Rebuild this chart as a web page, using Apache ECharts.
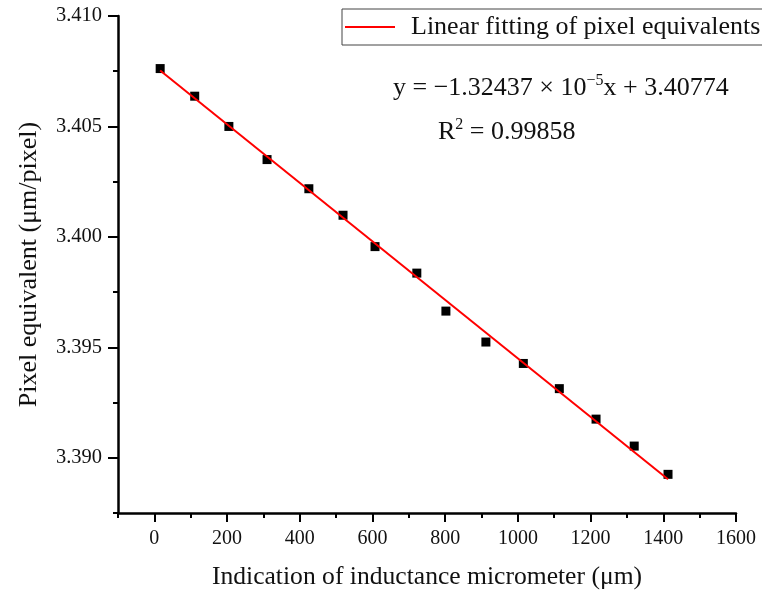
<!DOCTYPE html>
<html>
<head>
<meta charset="utf-8">
<script src="https://cdn.jsdelivr.net/npm/echarts@6/dist/echarts.min.js"></script>
<style>html,body{margin:0;padding:0;background:#fff;}#c{width:762px;height:595px;}</style>
</head>
<body>
<div id="c"></div>
<script>
// Measured data (Indication of inductance micrometer, µm -> pixel equivalent, µm/pixel)
const xValues = [16, 111, 205, 310, 425, 519, 607, 722, 802, 912, 1015, 1114, 1215, 1320, 1413];
const yValues = [3.40762, 3.40637, 3.40500, 3.40350, 3.40218, 3.40098, 3.39956, 3.39836, 3.39664, 3.39524, 3.39427, 3.39313, 3.39175, 3.39053, 3.38925];
// Fitted line end points (y = -1.32437e-5 x + 3.40774)
const fitX = [16, 1413];
const fitY = [3.40753, 3.38903];
// Axis ticks
const xMajorTicks = [0, 200, 400, 600, 800, 1000, 1200, 1400, 1600];
const xMinorTicks = [-100, 100, 300, 500, 700, 900, 1100, 1300, 1500];
const yMajorTicks = [3.390, 3.395, 3.400, 3.405, 3.410];
const yMinorTicks = [3.3875, 3.3925, 3.3975, 3.4025, 3.4075];
const legendName = 'Linear fitting of pixel equivalents';

const FONT = "'Liberation Serif', 'Times New Roman', serif";
const chart = echarts.init(document.getElementById('c'), null, {renderer: 'canvas'});

const baseX = {type: 'value', min: -100, max: 1600, position: 'bottom', splitLine: {show: false}};
const baseY = {type: 'value', min: 3.3875, max: 3.410, position: 'left', splitLine: {show: false}};

chart.setOption({
  animation: false,
  backgroundColor: '#fff',
  textStyle: {fontFamily: FONT},
  grid: {left: 118, right: 26, top: 16, bottom: 79, containLabel: false},
  legend: {
    data: [legendName],
    left: 342, top: 9,
    padding: [5, 12, 5, 3],
    icon: 'rect',
    itemWidth: 50, itemHeight: 2,
    borderColor: '#444', borderWidth: 1,
    backgroundColor: '#fff',
    textStyle: {fontFamily: FONT, fontSize: 26, color: '#111', padding: [0, 0, 0, 11]}
  },
  xAxis: [
    Object.assign({}, baseX, {
      name: 'Indication of inductance micrometer (\u03bcm)',
      nameLocation: 'middle', nameGap: 51,
      nameTextStyle: {fontFamily: FONT, fontSize: 25.6, color: '#111'},
      axisLine: {show: true, onZero: false, lineStyle: {color: '#000', width: 2.5}},
      axisTick: {show: true, inside: false, length: 9, lineStyle: {color: '#000', width: 2}, customValues: xMajorTicks},
      axisLabel: {show: true, margin: 16, fontFamily: FONT, fontSize: 20, color: '#111', customValues: xMajorTicks,
        formatter: v => String(v)}
    }),
    Object.assign({}, baseX, {
      axisLine: {show: false, onZero: false},
      axisTick: {show: true, inside: false, length: 5, lineStyle: {color: '#000', width: 2}, customValues: xMinorTicks},
      axisLabel: {show: false}
    })
  ],
  yAxis: [
    Object.assign({}, baseY, {
      name: 'Pixel equivalent (\u03bcm/pixel)',
      nameLocation: 'middle', nameGap: 76,
      nameTextStyle: {fontFamily: FONT, fontSize: 26, color: '#111'},
      axisLine: {show: true, onZero: false, lineStyle: {color: '#000', width: 2.5}},
      axisTick: {show: true, inside: false, length: 10, lineStyle: {color: '#000', width: 2}, customValues: yMajorTicks},
      axisLabel: {show: true, margin: 16, fontFamily: FONT, fontSize: 20.5, color: '#111', customValues: yMajorTicks,
        formatter: v => v.toFixed(3)}
    }),
    Object.assign({}, baseY, {
      axisLine: {show: false, onZero: false},
      axisTick: {show: true, inside: false, length: 5, lineStyle: {color: '#000', width: 2}, customValues: yMinorTicks},
      axisLabel: {show: false}
    })
  ],
  series: [
    {
      name: 'data',
      type: 'scatter',
      symbol: 'rect', symbolSize: 9,
      itemStyle: {color: '#000', opacity: 1},
      z: 2,
      data: xValues.map((x, i) => [x, yValues[i]])
    },
    {
      name: legendName,
      type: 'line',
      symbol: 'none',
      lineStyle: {color: '#ff0000', width: 2},
      itemStyle: {color: '#ff0000'},
      z: 3,
      data: fitX.map((x, i) => [x, fitY[i]])
    }
  ],
  graphic: [
    {
      type: 'text', x: 393, y: 88,
      style: {
        text: '{n|y = \u22121.32437 \u00d7 10}{s|\u22125}{n|x + 3.40774}',
        verticalAlign: 'middle', align: 'left',
        rich: {
          n: {fontFamily: FONT, fontSize: 26, fill: '#111'},
          s: {fontFamily: FONT, fontSize: 16, fill: '#111', padding: [0, 0, 15, 0]}
        }
      }
    },
    {
      type: 'text', x: 438, y: 132,
      style: {
        text: '{n|R}{s|2}{n| = 0.99858}',
        verticalAlign: 'middle', align: 'left',
        rich: {
          n: {fontFamily: FONT, fontSize: 26, fill: '#111'},
          s: {fontFamily: FONT, fontSize: 16, fill: '#111', padding: [0, 0, 15, 0]}
        }
      }
    }
  ]
});
</script>
</body>
</html>
